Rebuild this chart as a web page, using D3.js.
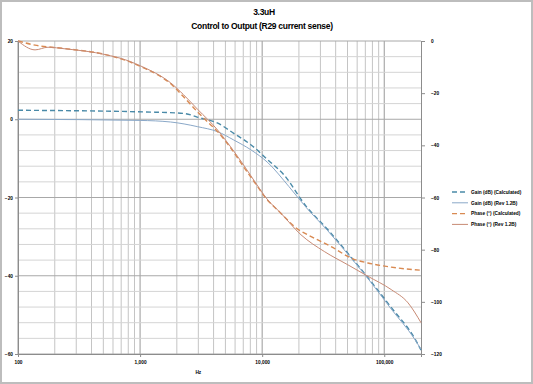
<!DOCTYPE html>
<html>
<head>
<meta charset="utf-8">
<script src="https://cdn.jsdelivr.net/npm/d3@7"></script>
<style>
  body { margin: 0; background: #fff; }
  svg { display: block; font-family: "Liberation Sans", Arial, sans-serif; }
</style>
</head>
<body>
<div id="chart"></div>
<script>
const W = 533, H = 384
const margin = { left: 18, right: 112, top: 41, bottom: 30 }
const width = W - margin.left - margin.right
const height = H - margin.top - margin.bottom

// frequency points (Hz)
const gainCalcFreq = [100, 1337, 2270, 3130, 4330, 5850, 8070, 11140, 15070, 22860, 34450, 55300, 73500, 114000, 177400, 200000]
const gainCalc = [2.3, 1.8, 1.5, 0.3, -1.0, -3.6, -6.5, -10.4, -14.2, -22.2, -28.2, -35.8, -40.5, -48.1, -56.0, -59.0]

const gainMeasFreq = [100, 1000, 1775, 2960, 4330, 5850, 8070, 11140, 16560, 22860, 34450, 55300, 73500, 114000, 177400, 200000]
const gainMeas = [0.0, -0.3, -0.7, -1.9, -3.2, -5.3, -7.8, -11.1, -17.2, -22.5, -28.5, -36.0, -40.7, -48.5, -56.2, -58.8]

const phaseCalcFreq = [100, 138, 243, 519, 757, 1105, 1337, 1775, 2270, 2960, 3570, 4330, 5520, 7060, 9200, 10700, 14230, 18310, 26740, 36650, 55300, 73500, 114000, 200000]
const phaseCalc = [0, -1.6, -2.9, -5.2, -7.4, -10.6, -12.5, -16.3, -21.4, -27.2, -31.0, -34.8, -41.0, -48.3, -55.9, -60.2, -66.0, -71.1, -75.6, -78.8, -83.5, -85.1, -86.7, -87.9]

const phaseMeasFreq = [100, 138, 176, 243, 519, 757, 1105, 1337, 1775, 2270, 2960, 4330, 5520, 7060, 9200, 10700, 14230, 20800, 32270, 50300, 73500, 114000, 156700, 200000]
const phaseMeas = [0, -3.4, -2.4, -3.0, -5.2, -7.2, -10.4, -12.3, -16.0, -20.6, -26.2, -34.2, -40.6, -47.6, -55.6, -60.0, -66.0, -74.3, -80.7, -85.8, -90.2, -95.3, -100.4, -108.0]

const xTicks = [100, 1000, 10000, 100000]
const gainTicks = [20, 0, -20, -40, -60]
const phaseTicks = [0, -20, -40, -60, -80, -100, -120]

const seriesNames = ['Gain (dB) (Calculated)', 'Gain (dB) (Rev 1.2B)', 'Phase (°) (Calculated)', 'Phase (°) (Rev 1.2B)']
const colors = ['#4a8aa8', '#8aa8c8', '#d98a52', '#c88a74']

const svg = d3.select('#chart').append('svg')
    .attr('width', W)
    .attr('height', H)

// outer frame
svg.append('rect')
    .attr('x', 1).attr('y', 1)
    .attr('width', W - 2).attr('height', H - 2)
    .style('fill', '#fff')
    .style('stroke', '#bdbdbd')
    .style('stroke-width', 2)

const x = d3.scaleLog().domain([100, 200000]).range([margin.left, margin.left + width])
const yG = d3.scaleLinear().domain([-60, 20]).range([margin.top + height, margin.top])
const yP = d3.scaleLinear().domain([-120, 0]).range([margin.top + height, margin.top])

// grid
const g = svg.append('g')
const vLines = []
xTicks.forEach(d => {
    for (let k = 1; k <= 9; k++) {
        if (k * d < 200000) vLines.push({ f: k * d, major: k === 1 })
    }
})
g.selectAll('line.v').data(vLines).join('line')
    .attr('x1', d => x(d.f)).attr('x2', d => x(d.f))
    .attr('y1', margin.top).attr('y2', margin.top + height)
    .style('stroke', d => d.major ? '#9a9a9a' : '#c4c4c4')
    .style('stroke-width', 1)

const hLines = d3.range(-60, 21, 4)
g.selectAll('line.h').data(hLines).join('line')
    .attr('x1', margin.left).attr('x2', margin.left + width)
    .attr('y1', d => yG(d)).attr('y2', d => yG(d))
    .style('stroke', d => d % 20 === 0 ? '#a8a8a8' : '#d4d4d4')
    .style('stroke-width', 1)

// axes
const fmt = d3.format(',')
const xAxis = svg.append('g')
    .attr('transform', `translate(0,${margin.top + height})`)
    .call(d3.axisBottom(x).tickValues(xTicks).tickFormat(fmt).tickSize(3).tickPadding(4))
const leftAxis = svg.append('g')
    .attr('transform', `translate(${margin.left},0)`)
    .call(d3.axisLeft(yG).tickValues(gainTicks).tickSize(3).tickPadding(2))
const rightAxis = svg.append('g')
    .attr('transform', `translate(${margin.left + width},0)`)
    .call(d3.axisRight(yP).tickValues(phaseTicks).tickSize(4).tickPadding(6))

;[xAxis, leftAxis, rightAxis].forEach(a => {
    a.select('.domain').style('stroke', '#8c8c8c')
    a.selectAll('.tick line').style('stroke', '#8c8c8c')
    a.selectAll('text')
        .style('font-size', '4.8px')
        .style('font-weight', 'bold')
        .style('fill', '#000')
})

svg.append('text')
    .attr('x', x(3000)).attr('y', 374)
    .attr('text-anchor', 'middle')
    .style('font-size', '4.8px').style('font-weight', 'bold')
    .text('Hz')

// title
svg.append('text')
    .attr('x', 264).attr('y', 15)
    .attr('text-anchor', 'middle')
    .style('font-size', '8.5px').style('font-weight', 'bold')
    .style('letter-spacing', '-0.3px')
    .text('3.3uH')
svg.append('text')
    .attr('x', 262).attr('y', 29)
    .attr('text-anchor', 'middle')
    .style('font-size', '8.5px').style('font-weight', 'bold')
    .style('letter-spacing', '-0.3px')
    .text('Control to Output (R29 current sense)')

// curves
const series = [
    { f: gainCalcFreq, v: gainCalc, y: yG, dash: '5,3', w: 1.4 },
    { f: gainMeasFreq, v: gainMeas, y: yG, dash: null, w: 1 },
    { f: phaseCalcFreq, v: phaseCalc, y: yP, dash: '5,3', w: 1.4 },
    { f: phaseMeasFreq, v: phaseMeas, y: yP, dash: null, w: 1 }
]
series.forEach((s, i) => {
    const pts = s.f.map((f, j) => [f, s.v[j]])
    const line = d3.line()
        .x(d => x(d[0]))
        .y(d => s.y(d[1]))
        .curve(d3.curveMonotoneX)
    svg.append('path')
        .datum(pts)
        .attr('d', line)
        .style('fill', 'none')
        .style('stroke', colors[i])
        .style('stroke-width', s.w)
        .style('stroke-dasharray', s.dash)
})

// legend
const legend = svg.append('g').attr('transform', 'translate(452,192)')
seriesNames.forEach((name, i) => {
    const row = legend.append('g').attr('transform', `translate(0,${i * 10.8})`)
    row.append('line')
        .attr('x1', 0).attr('x2', 16)
        .style('stroke', colors[i])
        .style('stroke-width', series[i].w)
        .style('stroke-dasharray', series[i].dash)
    row.append('text')
        .attr('x', 19).attr('y', 1.8)
        .style('font-size', '4.8px').style('font-weight', 'bold')
        .text(name)
})
</script>
</body>
</html>
